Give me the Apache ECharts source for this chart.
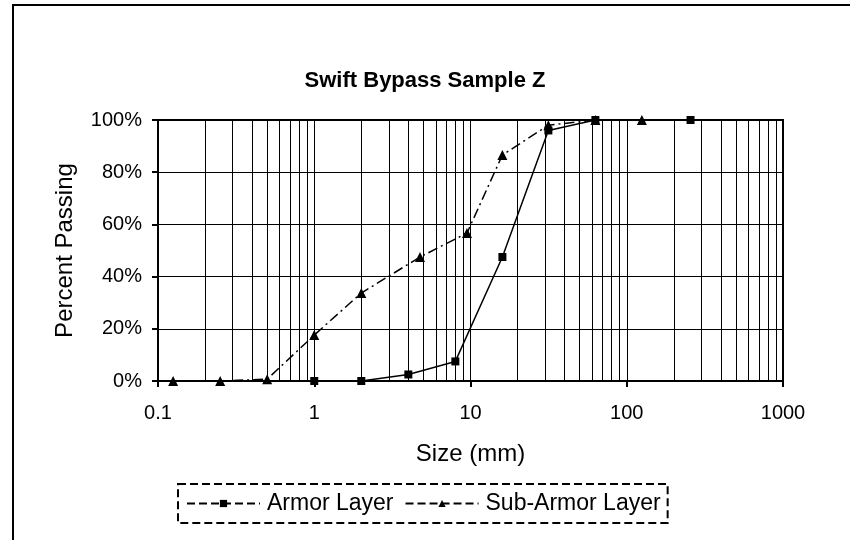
<!DOCTYPE html>
<html>
<head>
<meta charset="utf-8">
<title>Swift Bypass Sample Z</title>
<script src="https://cdn.jsdelivr.net/npm/echarts@6/dist/echarts.min.js"></script>
<style>
  html, body { margin: 0; padding: 0; background: #fff; }
  #chart { width: 850px; height: 540px; }
</style>
</head>
<body>
<div id="chart"></div>
<script>
// sieve size (mm) / percent passing
var armorSize = [1, 2, 4, 8, 16, 31.5, 63, 256];
var armorPct = [0, 0, 2.5, 7.5, 47.5, 96, 100, 100];

var subSize = [0.125, 0.25, 0.5, 1, 2, 4.75, 9.5, 16, 31.5, 63, 125];
var subPct = [0, 0, 0.7, 17.6, 33.7, 47.5, 56.7, 86.6, 98, 100, 100];

var yTicks = [0, 20, 40, 60, 80, 100];
var xDecades = [0.1, 1, 10, 100, 1000];

function pairs(xs, ys) {
  var out = [];
  for (var i = 0; i < xs.length; i++) out.push([xs[i], ys[i]]);
  return out;
}

// minor vertical grid (2..9 in every decade)
var minorGrid = [];
for (var d = 0; d < xDecades.length - 1; d++) {
  for (var m = 2; m <= 9; m++) {
    minorGrid.push({ xAxis: +(xDecades[d] * m).toPrecision(3) });
  }
}

var font = 'Liberation Sans, Arial, sans-serif';
var chart = echarts.init(document.getElementById('chart'));

var option = {
  animation: false,
  textStyle: { fontFamily: font, color: '#000' },
  title: {
    text: 'Swift Bypass Sample Z',
    left: 'center',
    top: 65,
    textStyle: { fontFamily: font, fontSize: 22, fontWeight: 'bold', color: '#000' }
  },
  graphic: [{
    type: 'rect',
    silent: true,
    shape: { x: 13, y: 5, width: 900, height: 600 },
    style: { fill: 'none', stroke: '#000', lineWidth: 2 }
  }],
  grid: {
    left: 158, right: 67, top: 120, bottom: 159,
    show: true, borderColor: '#000', borderWidth: 2
  },
  legend: {
    left: 178,
    top: 484,
    data: ['Armor Layer', 'Sub-Armor Layer'],
    itemWidth: 73,
    itemHeight: 9,
    itemGap: 11,
    padding: [8, 7, 8, 8],
    borderColor: '#000',
    borderWidth: 2,
    borderType: [8, 4],
    lineStyle: { type: [8, 4], width: 2 },
    textStyle: { fontFamily: font, fontSize: 23, color: '#000', padding: [0, 0, 0, 2] }
  },
  xAxis: {
    type: 'log',
    logBase: 10,
    min: 0.1,
    max: 1000,
    name: 'Size (mm)',
    nameLocation: 'middle',
    nameGap: 61,
    nameTextStyle: { fontFamily: font, fontSize: 24, color: '#000' },
    axisLine: { lineStyle: { color: '#000', width: 2 } },
    axisTick: { show: true, length: 6, lineStyle: { color: '#000', width: 2 } },
    axisLabel: {
      margin: 22,
      fontFamily: font, fontSize: 20, color: '#000',
      formatter: function (v) { return String(+v.toPrecision(3)); }
    },
    splitLine: { show: true, lineStyle: { color: '#000', width: 1 } }
  },
  yAxis: {
    type: 'value',
    min: 0,
    max: 100,
    interval: 20,
    name: 'Percent Passing',
    nameLocation: 'middle',
    nameGap: 81,
    nameTextStyle: { fontFamily: font, fontSize: 24, color: '#000' },
    axisLine: { show: true, lineStyle: { color: '#000', width: 2 } },
    axisTick: { show: true, length: 6, lineStyle: { color: '#000', width: 2 } },
    axisLabel: {
      margin: 16,
      fontFamily: font, fontSize: 20, color: '#000',
      formatter: '{value}%'
    },
    splitLine: { show: true, lineStyle: { color: '#000', width: 1 } }
  },
  series: [
    {
      name: 'Armor Layer',
      type: 'line',
      data: pairs(armorSize, armorPct),
      symbol: 'rect',
      symbolSize: 8,
      itemStyle: { color: '#000' },
      lineStyle: { color: '#000', width: 1.5, type: 'solid' },
      z: 3,
      markLine: {
        silent: true,
        symbol: 'none',
        label: { show: false },
        lineStyle: { color: '#000', width: 1, type: 'solid' },
        data: minorGrid,
        z: 1
      }
    },
    {
      name: 'Sub-Armor Layer',
      type: 'line',
      data: pairs(subSize, subPct),
      symbol: 'triangle',
      symbolSize: 10,
      itemStyle: { color: '#000' },
      lineStyle: { color: '#000', width: 1.5, type: [10, 4, 2, 4] },
      z: 4
    }
  ]
};

chart.setOption(option);
</script>
</body>
</html>
